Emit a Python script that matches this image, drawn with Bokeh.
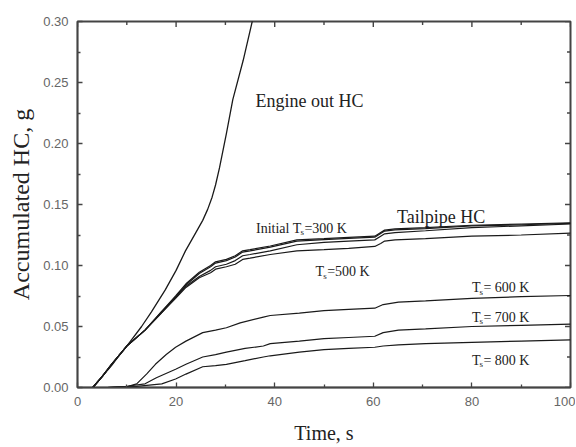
import math
from bokeh.plotting import figure
from bokeh.models import FixedTicker, NumeralTickFormatter, Range1d
from bokeh.core.properties import value
from bokeh.embed import file_html
from bokeh.resources import INLINE

# ---------------- data ----------------
engine_t = [3.1, 5, 6.9, 8.2, 10, 13, 15, 17.8, 20, 21.9, 24, 25.4, 26.4, 27.3, 28, 28.8, 30.2, 31.5, 33.6, 35.5]
engine_v = [0, 0.009, 0.018, 0.025, 0.034, 0.050, 0.062, 0.080, 0.096, 0.112, 0.127, 0.137, 0.146, 0.156, 0.166, 0.180, 0.208, 0.236, 0.268, 0.301]

tail_t = [3.1, 5, 6.9, 10, 13.7, 17, 19.9, 22, 24.7, 27, 28, 30.2, 32, 33.5, 35, 39.1, 44.5, 50, 55, 60.3, 61.5, 62.3, 64.4, 70.6, 80, 90, 100]
ts300_v = [0, 0.009, 0.019, 0.034, 0.047, 0.062, 0.075, 0.085, 0.0945, 0.100, 0.103, 0.105, 0.108, 0.112, 0.113, 0.116, 0.121, 0.122, 0.123, 0.124, 0.127, 0.129, 0.130, 0.131, 0.133, 0.134, 0.135]
ts350_v = [0, 0.009, 0.019, 0.034, 0.047, 0.062, 0.074, 0.084, 0.0935, 0.099, 0.102, 0.104, 0.107, 0.111, 0.112, 0.115, 0.120, 0.1212, 0.1222, 0.1232, 0.1262, 0.1282, 0.1292, 0.1303, 0.1324, 0.1334, 0.1345]
ts400_v = [0, 0.009, 0.019, 0.034, 0.047, 0.061, 0.074, 0.083, 0.091, 0.096, 0.099, 0.101, 0.104, 0.108, 0.109, 0.112, 0.117, 0.119, 0.120, 0.121, 0.124, 0.126, 0.127, 0.1285, 0.131, 0.1325, 0.134]
ts500_v = [0, 0.009, 0.019, 0.034, 0.047, 0.061, 0.073, 0.082, 0.090, 0.094, 0.097, 0.099, 0.101, 0.105, 0.106, 0.109, 0.112, 0.113, 0.114, 0.1156, 0.118, 0.120, 0.121, 0.122, 0.124, 0.125, 0.1265]

ts600_t = [6, 10.3, 12, 14, 15.8, 18, 19.9, 22, 25.4, 28, 30.2, 33, 37.7, 39.1, 45, 50, 55, 60.3, 62, 65.1, 70.6, 80, 90, 100]
ts600_v = [0, 0.001, 0.003, 0.011, 0.019, 0.027, 0.033, 0.038, 0.045, 0.047, 0.049, 0.053, 0.0577, 0.059, 0.061, 0.063, 0.064, 0.065, 0.068, 0.070, 0.071, 0.073, 0.0745, 0.0754]

ts700_t = [6, 10, 13.7, 16, 19.9, 22, 25.4, 28, 30.2, 34, 37.7, 39.1, 45, 50, 55, 60.3, 62, 65.1, 70.6, 80, 90, 100]
ts700_v = [0, 0.001, 0.003, 0.008, 0.015, 0.019, 0.025, 0.027, 0.029, 0.032, 0.034, 0.036, 0.038, 0.040, 0.041, 0.042, 0.045, 0.047, 0.048, 0.050, 0.051, 0.052]

ts800_t = [6, 12, 17.1, 19.9, 22, 25.4, 28, 30.2, 34, 37.7, 39.1, 45, 50, 55, 60.3, 62, 65.1, 70.6, 80, 90, 100]
ts800_v = [0, 0.001, 0.003, 0.007, 0.011, 0.017, 0.018, 0.019, 0.022, 0.025, 0.026, 0.029, 0.031, 0.032, 0.033, 0.034, 0.035, 0.036, 0.037, 0.038, 0.039]

x_major = [0, 20, 40, 60, 80, 100]
x_minor = [10, 30, 50, 70, 90]
y_major = [0.0, 0.05, 0.10, 0.15, 0.20, 0.25, 0.30]
y_minor = [0.025, 0.075, 0.125, 0.175, 0.225, 0.275]

x_label = "Time, s"
y_label = "Accumulated HC, g"

# ---------------- figure ----------------
AX = "#444444"
X0, X1, Y0, Y1 = x_major[0], x_major[-1], y_major[0], y_major[-1]
p = figure(width=575, height=447, output_backend="svg", toolbar_location=None,
           x_range=Range1d(X0, X1), y_range=Range1d(Y0, Y1),
           min_border_left=77, min_border_right=5, min_border_top=21, min_border_bottom=60)
p.xgrid.visible = False
p.ygrid.visible = False
p.outline_line_color = AX
p.outline_line_width = 2
p.background_fill_color = "white"
p.border_fill_color = "white"

def style(ax):
    ax.major_tick_in = 5
    ax.major_tick_out = 0
    ax.minor_tick_in = 3
    ax.minor_tick_out = 0
    ax.axis_line_color = AX
    ax.axis_line_width = 1.3
    ax.major_tick_line_color = AX
    ax.minor_tick_line_color = AX
    ax.major_tick_line_width = 1.3
    ax.minor_tick_line_width = 1.3
    ax.major_label_text_font = "Liberation Sans"
    ax.major_label_text_font_size = "13px"
    ax.major_label_text_color = "#666666"

xa = p.xaxis[0]
xa.ticker = FixedTicker(ticks=x_major, minor_ticks=x_minor)
style(xa)
xa.major_label_standoff = 9
xa.axis_label = x_label
xa.axis_label_text_font = "Liberation Serif"
xa.axis_label_text_font_size = "20px"
xa.axis_label_text_font_style = "normal"
xa.axis_label_text_color = "#222222"
xa.axis_label_standoff = 13

ya = p.yaxis[0]
ya.ticker = FixedTicker(ticks=y_major, minor_ticks=y_minor)
ya.formatter = NumeralTickFormatter(format="0.00")
style(ya)
ya.major_label_standoff = 9
ya.axis_label = y_label
ya.axis_label_text_font = "Liberation Serif"
ya.axis_label_text_font_size = "24px"
ya.axis_label_text_font_style = "normal"
ya.axis_label_text_color = "#222222"
ya.axis_label_standoff = 6

# mirrored inward ticks on the top and right edges (markers are clipped to the frame,
# so only the inner half of each dash shows)
p.scatter(x_major, [Y1] * len(x_major), marker="dash", size=11, angle=math.pi / 2, line_color=AX, line_width=1.4)
p.scatter(x_minor, [Y1] * len(x_minor), marker="dash", size=7, angle=math.pi / 2, line_color=AX, line_width=1.4)
p.scatter([X1] * len(y_major), y_major, marker="dash", size=11, line_color=AX, line_width=1.4)
p.scatter([X1] * len(y_minor), y_minor, marker="dash", size=7, line_color=AX, line_width=1.4)

LC = "#1a1a1a"
p.line(engine_t, engine_v, line_color=LC, line_width=1.3)
for v in (ts300_v, ts350_v, ts400_v, ts500_v):
    p.line(tail_t, v, line_color=LC, line_width=1.2)
p.line(ts600_t, ts600_v, line_color=LC, line_width=1.2)
p.line(ts700_t, ts700_v, line_color=LC, line_width=1.2)
p.line(ts800_t, ts800_v, line_color=LC, line_width=1.2)

SERIF = value("Liberation Serif")
TC = "#222222"

def txt(x, y, s, size, dx=0, dy=0):
    p.text(x=[x], y=[y], text=[s], text_font=SERIF, text_font_size=size,
           text_baseline="alphabetic", text_align="left", text_color=TC,
           x_offset=dx, y_offset=dy)

txt(36.1, 0.235, "Engine out HC", "18px")
txt(64.8, 0.140, "Tailpipe HC", "18px")

def ts_label(x, y, prefix, suffix, size=14):
    widths = {"Initial T": 3.25, "T": 0.611}
    w = widths[prefix] * size
    txt(x, y, prefix, f"{size}px")
    txt(x, y, "s", "9px", dx=w - 1, dy=4)
    txt(x, y, suffix, f"{size}px", dx=w + 3)

ts_label(36.2, 0.1306, "Initial T", "=300 K")
ts_label(48.3, 0.0947, "T", "=500 K")
ts_label(80.0, 0.0817, "T", "= 600 K")
ts_label(80.0, 0.0576, "T", "= 700 K")
ts_label(80.0, 0.0225, "T", "= 800 K")

open("out.html", "w").write(file_html(p, INLINE))
